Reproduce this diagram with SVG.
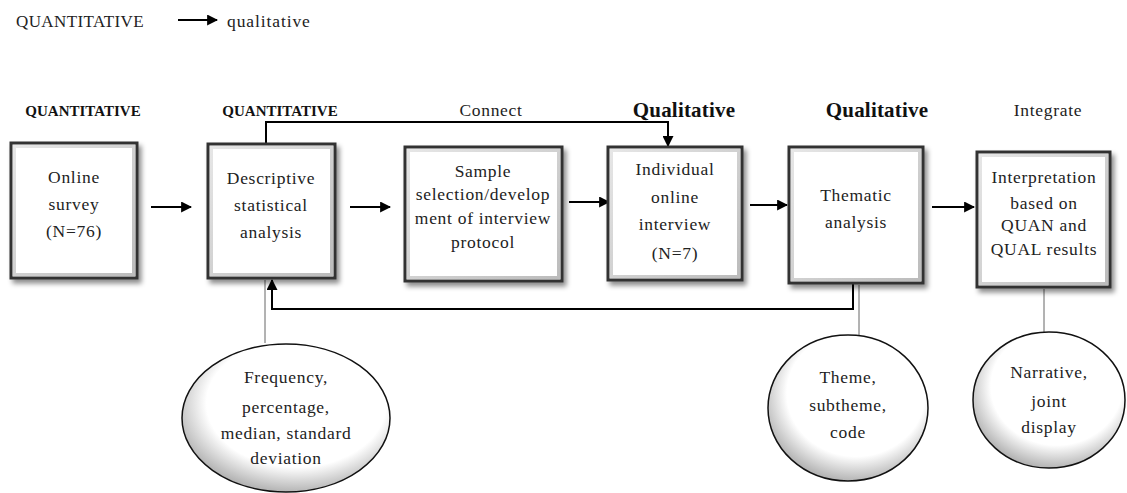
<svg xmlns="http://www.w3.org/2000/svg" width="1127" height="493" viewBox="0 0 1127 493">
<style>
.t{font-family:"Liberation Serif","Times New Roman",serif;font-size:17.5px;letter-spacing:0.7px;fill:#222;text-anchor:middle}
.h{font-family:"Liberation Serif","Times New Roman",serif;font-weight:bold;fill:#111;text-anchor:middle}
.box{fill:#fff;stroke:#333;stroke-width:3;filter:url(#sh)}
.bev{fill:none;stroke:url(#bv);stroke-width:3}
.ell{fill:url(#eg);stroke:#111;stroke-width:1.5}
.c{fill:none;stroke:#000;stroke-width:2}
.g{fill:none;stroke:#666;stroke-width:1}
</style>
<defs>
<linearGradient id="bv" x1="0" y1="0" x2="1" y2="1"><stop offset="0" stop-color="#e6e6e6"/><stop offset="1" stop-color="#bcbcbc"/></linearGradient>
<radialGradient id="eg" cx="0.55" cy="0.4" r="0.6"><stop offset="0.72" stop-color="#fff"/><stop offset="1" stop-color="#b5b5b5"/></radialGradient>
<filter id="sh" x="-10%" y="-10%" width="125%" height="125%"><feDropShadow dx="3" dy="4" stdDeviation="2.5" flood-color="#000" flood-opacity="0.45"/></filter>
<marker id="ah" viewBox="0 0 10 10" refX="9" refY="5" markerWidth="5.5" markerHeight="5.5" orient="auto"><path d="M0,0L10,5L0,10z" fill="#000"/></marker>
</defs>
<g id="title">
<text x="16" y="27" font-family="Liberation Serif,serif" font-size="17" letter-spacing="0.4" fill="#222">QUANTITATIVE</text>
<line x1="178" y1="20" x2="217" y2="20" class="c" marker-end="url(#ah)"/>
<text x="227" y="27" font-family="Liberation Serif,serif" font-size="17.5" letter-spacing="0.9" fill="#222">qualitative</text>
</g>
<g id="headers">
<text x="83" y="116" class="h" font-size="15">QUANTITATIVE</text>
<text x="280" y="116" class="h" font-size="15">QUANTITATIVE</text>
<text x="491" y="116" class="t" font-size="16" letter-spacing="1">Connect</text>
<text x="684" y="117" class="h" font-size="21" letter-spacing="0.2">Qualitative</text>
<text x="877" y="117" class="h" font-size="21" letter-spacing="0.2">Qualitative</text>
<text x="1048" y="116" class="t" font-size="16" letter-spacing="1">Integrate</text>
</g>
<g id="connectors">
<line x1="151" y1="207" x2="191" y2="207" class="c" marker-end="url(#ah)"/>
<line x1="350" y1="207" x2="390" y2="207" class="c" marker-end="url(#ah)"/>
<line x1="569" y1="202" x2="609" y2="202" class="c" marker-end="url(#ah)"/>
<line x1="750" y1="205" x2="787" y2="205" class="c" marker-end="url(#ah)"/>
<line x1="932" y1="207" x2="974" y2="207" class="c" marker-end="url(#ah)"/>
<polyline points="266,143 266,122 668,122 668,146" class="c" marker-end="url(#ah)"/>
<polyline points="853,284 853,309 272,309 272,280" class="c" marker-end="url(#ah)"/>
<line x1="265" y1="280" x2="265" y2="343" class="g"/>
<line x1="859" y1="285" x2="859" y2="335" class="g"/>
<line x1="1044" y1="289" x2="1044" y2="332" class="g"/>
</g>
<g id="n1">
<rect x="11" y="143" width="126" height="135" class="box"/>
<rect x="14.5" y="146.5" width="119" height="128" class="bev"/>
<text class="t" font-size="18.5" letter-spacing="0.9"><tspan x="74" y="183">Online</tspan><tspan x="74" y="210">survey</tspan><tspan x="74" y="237">(N=76)</tspan></text>
</g>
<g id="n2">
<rect x="208" y="144" width="127" height="134" class="box"/>
<rect x="211.5" y="147.5" width="120" height="127" class="bev"/>
<text class="t" font-size="18.5" letter-spacing="0.9"><tspan x="271" y="184">Descriptive</tspan><tspan x="271" y="211">statistical</tspan><tspan x="271" y="238">analysis</tspan></text>
</g>
<g id="n3">
<rect x="405" y="147" width="157" height="134" class="box"/>
<rect x="408.5" y="150.5" width="150" height="127" class="bev"/>
<text class="t" font-size="16" letter-spacing="0.6"><tspan x="483" y="177">Sample</tspan><tspan x="483" y="200">selection/develop</tspan><tspan x="483" y="224">ment of interview</tspan><tspan x="483" y="248">protocol</tspan></text>
</g>
<g id="n4">
<rect x="608" y="147" width="134" height="133" class="box"/>
<rect x="611.5" y="150.5" width="127" height="126" class="bev"/>
<text class="t"><tspan x="675" y="175">Individual</tspan><tspan x="675" y="203">online</tspan><tspan x="675" y="230">interview</tspan><tspan x="675" y="259">(N=7)</tspan></text>
</g>
<g id="n5">
<rect x="789" y="147" width="134" height="136" class="box"/>
<rect x="792.5" y="150.5" width="127" height="129" class="bev"/>
<text class="t"><tspan x="856" y="201">Thematic</tspan><tspan x="856" y="228">analysis</tspan></text>
</g>
<g id="n6">
<rect x="977" y="152" width="133" height="135" class="box"/>
<rect x="980.5" y="155.5" width="126" height="128" class="bev"/>
<text class="t" font-size="16" letter-spacing="0.4"><tspan x="1044" y="183">Interpretation</tspan><tspan x="1044" y="209">based on</tspan><tspan x="1044" y="231">QUAN and</tspan><tspan x="1044" y="255">QUAL results</tspan></text>
</g>
<g id="e1">
<ellipse cx="286" cy="418" rx="104" ry="74" class="ell"/>
<text class="t" font-size="16.5" letter-spacing="0.5"><tspan x="286" y="383">Frequency,</tspan><tspan x="286" y="413">percentage,</tspan><tspan x="286" y="439">median, standard</tspan><tspan x="286" y="464">deviation</tspan></text>
</g>
<g id="e2">
<ellipse cx="848" cy="408" rx="80" ry="73" class="ell"/>
<text class="t"><tspan x="848" y="383">Theme,</tspan><tspan x="848" y="411">subtheme,</tspan><tspan x="848" y="438">code</tspan></text>
</g>
<g id="e3">
<ellipse cx="1049" cy="400" rx="76" ry="68" class="ell"/>
<text class="t"><tspan x="1049" y="378">Narrative,</tspan><tspan x="1049" y="407">joint</tspan><tspan x="1049" y="433">display</tspan></text>
</g>
</svg>
